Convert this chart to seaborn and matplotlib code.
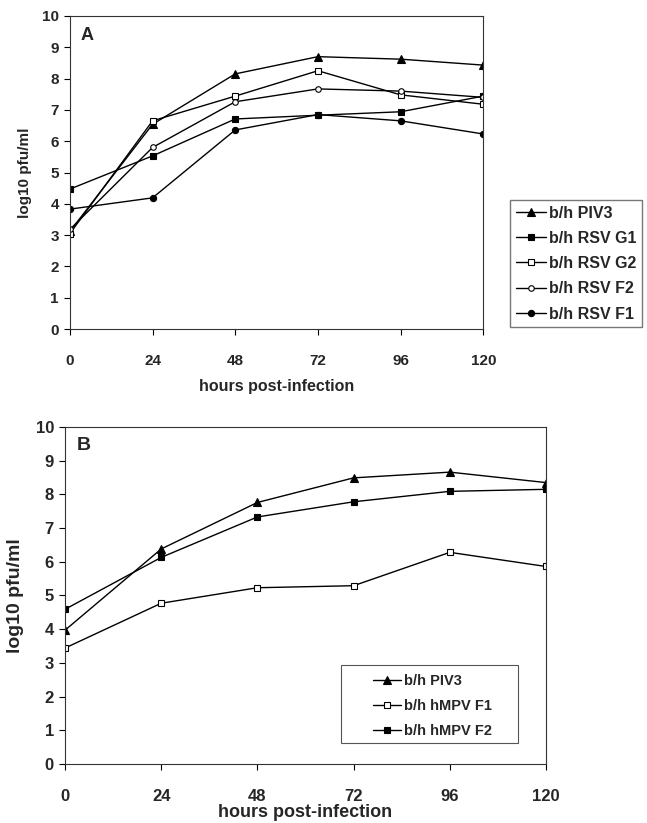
import numpy as np
import pandas as pd
import seaborn as sns
import matplotlib.pyplot as plt
from matplotlib.patches import Rectangle

# time points (hours)
hours = [0, 24, 48, 72, 96, 120]

# panel A
piv3_a = [3.12, 6.54, 8.15, 8.70, 8.62, 8.43]
rsv_g1 = [4.47, 5.53, 6.71, 6.83, 6.94, 7.44]
rsv_g2 = [3.05, 6.65, 7.44, 8.25, 7.48, 7.18]
rsv_f2 = [3.18, 5.80, 7.26, 7.67, 7.60, 7.40]
rsv_f1 = [3.83, 4.19, 6.36, 6.85, 6.65, 6.23]

# panel B
piv3_b = [3.97, 6.38, 7.76, 8.49, 8.66, 8.35]
hmpv_f1 = [3.44, 4.77, 5.23, 5.29, 6.28, 5.86]
hmpv_f2 = [4.59, 6.13, 7.33, 7.78, 8.09, 8.15]

sns.set_style("white")
plt.rcParams['font.family'] = ['Liberation Sans', 'DejaVu Sans']
plt.rcParams['font.weight'] = 'bold'

fig = plt.figure(figsize=(6.47, 8.23), dpi=100)
axA = fig.add_axes([0.108, 0.6002, 0.639, 0.3804])
axB = fig.add_axes([0.1005, 0.0717, 0.7434, 0.4095])

#Panel A
seriesA = [("b/h PIV3", piv3_a, "^", "black", 5.5),
           ("b/h RSV G1", rsv_g1, "s", "black", 4.5),
           ("b/h RSV G2", rsv_g2, "s", "white", 4.5),
           ("b/h RSV F2", rsv_f2, "o", "white", 4.0),
           ("b/h RSV F1", rsv_f1, "o", "black", 4.5)]
for name, vals, m, fc, ms in seriesA:
    df = pd.DataFrame({"hours": hours, "val": vals})
    sns.lineplot(data=df, x="hours", y="val", ax=axA, color="black", lw=1.0,
                 marker=m, markerfacecolor=fc, markeredgecolor="black",
                 markersize=ms, markeredgewidth=0.8, label=name)

#Panel B
seriesB = [("b/h PIV3", piv3_b, "^", "black", 5.5),
           ("b/h hMPV F1", hmpv_f1, "s", "white", 4.5),
           ("b/h hMPV F2", hmpv_f2, "s", "black", 4.5)]
for name, vals, m, fc, ms in seriesB:
    df = pd.DataFrame({"hours": hours, "val": vals})
    sns.lineplot(data=df, x="hours", y="val", ax=axB, color="black", lw=1.0,
                 marker=m, markerfacecolor=fc, markeredgecolor="black",
                 markersize=ms, markeredgewidth=0.8, label=name)

for ax in [axA, axB]:
    ax.set_xlim(0, 120)
    ax.set_ylim(0, 10)
    ax.set_xticks(hours)
    ax.set_yticks(range(11))
    ax.tick_params(direction="out", length=4, width=0.8, color="black",
                   left=True, bottom=True)
    for s in ax.spines.values():
        s.set_color("#333333")
        s.set_linewidth(0.8)

axA.tick_params(axis="x", labelsize=11, pad=14)
axA.tick_params(axis="y", labelsize=11, pad=4)
axA.set_xlabel("hours post-infection", fontsize=11.5, fontweight="bold", labelpad=8)
axA.set_ylabel("log10 pfu/ml", fontsize=11, fontweight="bold", labelpad=7)
axA.text(0.025, 0.965, "A", transform=axA.transAxes, fontsize=13,
         fontweight="bold", va="top", ha="left")
axA.legend(loc="upper left", bbox_to_anchor=(1.065, 0.412), frameon=True,
           fancybox=False, edgecolor="#555555", fontsize=11.5,
           handlelength=1.9, handletextpad=0.2, borderpad=0.35,
           labelspacing=0.64, borderaxespad=0)

axB.tick_params(axis="x", labelsize=12, pad=14)
axB.tick_params(axis="y", labelsize=12, pad=4)
axB.set_xlabel("hours post-infection", fontsize=13, fontweight="bold", labelpad=0)
axB.set_ylabel("log10 pfu/ml", fontsize=14, fontweight="bold", labelpad=8)
axB.text(0.025, 0.97, "B", transform=axB.transAxes, fontsize=14,
         fontweight="bold", va="top", ha="left")
axB.legend(loc="upper left", bbox_to_anchor=(0.64, 0.266), frameon=False,
           fontsize=10.5, handlelength=1.9, handletextpad=0.25, borderpad=0,
           labelspacing=0.75, borderaxespad=0)
axB.add_patch(Rectangle((0.574, 0.062), 0.368, 0.232, transform=axB.transAxes,
                        fill=False, edgecolor="#555555", lw=0.8, zorder=5))

plt.savefig("out.png", dpi=100)
